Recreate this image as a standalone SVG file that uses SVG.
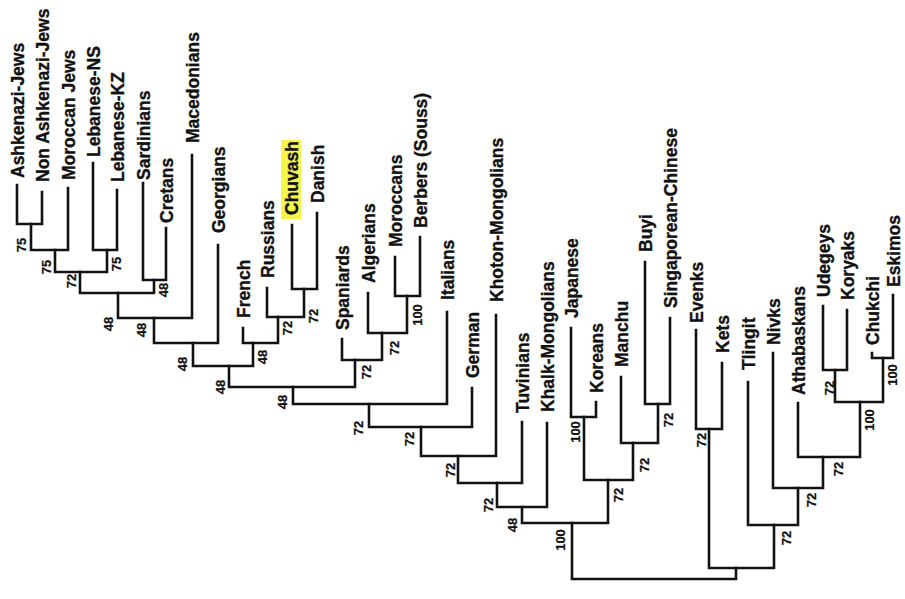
<svg xmlns="http://www.w3.org/2000/svg" width="905" height="599" viewBox="0 0 905 599">
<style>
.lbl{font-family:"Liberation Sans",Arial,sans-serif;font-weight:bold;font-size:17.5px;fill:#111;stroke:#111;stroke-width:0.35}
.bs{font-family:"Liberation Sans",Arial,sans-serif;font-weight:bold;font-size:13px;fill:#111;stroke:#111;stroke-width:0.25;text-anchor:middle}
.br{fill:none;stroke:#111;stroke-width:2.6;stroke-linejoin:miter;stroke-linecap:square}
</style>
<rect width="905" height="599" fill="#fff"/>
<g id="connectors" class="br">
<path d="M17,185 V224 H42 V192"/>
<path d="M31,224 V250 H68 V188"/>
<path d="M93,163 V250 H117 V190"/>
<path d="M55,250 V272 H107 V250"/>
<path d="M143,183 V280 H166 V228"/>
<path d="M80,272 V293 H154 V280"/>
<path d="M118,293 V318 H192 V155"/>
<path d="M154,318 V343 H218 V245"/>
<path d="M292,225 V289 H317 V213"/>
<path d="M267,288 V317 H304 V289"/>
<path d="M243,328 V343 H278 V317"/>
<path d="M193,343 V366 H253 V343"/>
<path d="M395,257 V296 H420 V237"/>
<path d="M368,293 V333 H407 V296"/>
<path d="M342,339 V360 H382 V333"/>
<path d="M229,366 V387 H355 V360"/>
<path d="M293,387 V404 H447 V312"/>
<path d="M369,404 V427 H472 V388"/>
<path d="M421,427 V456 H496 V315"/>
<path d="M458,456 V483 H522 V422"/>
<path d="M497,483 V507 H547 V423"/>
<path d="M571,328 V417 H596 V402"/>
<path d="M645,262 V404 H670 V318"/>
<path d="M621,377 V443 H658 V404"/>
<path d="M584,417 V480 H633 V443"/>
<path d="M522,507 V523 H608 V480"/>
<path d="M696,330 V429 H722 V363"/>
<path d="M823,306 V370 H847 V310"/>
<path d="M872,353 V358 H893 V295"/>
<path d="M835,370 V402 H883 V358"/>
<path d="M798,403 V457 H860 V402"/>
<path d="M773,353 V488 H823 V457"/>
<path d="M748,382 V525 H798 V488"/>
<path d="M709,429 V568 H774 V525"/>
<path d="M572,523 V579 H736 V568"/>
</g>
<g id="support">
<text class="bs" transform="translate(25.5,245) rotate(-90)">75</text>
<text class="bs" transform="translate(50.5,267) rotate(-90)">75</text>
<text class="bs" transform="translate(120.5,264) rotate(-90)">75</text>
<text class="bs" transform="translate(75.5,281) rotate(-90)">72</text>
<text class="bs" transform="translate(167.5,290) rotate(-90)">48</text>
<text class="bs" transform="translate(112.5,324) rotate(-90)">48</text>
<text class="bs" transform="translate(145.5,330) rotate(-90)">48</text>
<text class="bs" transform="translate(186.5,364) rotate(-90)">48</text>
<text class="bs" transform="translate(266.5,357) rotate(-90)">48</text>
<text class="bs" transform="translate(291.5,328) rotate(-90)">72</text>
<text class="bs" transform="translate(317.5,316) rotate(-90)">72</text>
<text class="bs" transform="translate(224.5,387) rotate(-90)">48</text>
<text class="bs" transform="translate(421.5,315) rotate(-90)">100</text>
<text class="bs" transform="translate(398.5,348) rotate(-90)">72</text>
<text class="bs" transform="translate(370.5,372) rotate(-90)">72</text>
<text class="bs" transform="translate(286.5,402) rotate(-90)">48</text>
<text class="bs" transform="translate(362.5,428) rotate(-90)">72</text>
<text class="bs" transform="translate(413.5,439) rotate(-90)">72</text>
<text class="bs" transform="translate(454.5,470) rotate(-90)">72</text>
<text class="bs" transform="translate(492.5,505) rotate(-90)">72</text>
<text class="bs" transform="translate(516.5,525) rotate(-90)">48</text>
<text class="bs" transform="translate(579.5,432) rotate(-90)">100</text>
<text class="bs" transform="translate(672.5,420) rotate(-90)">72</text>
<text class="bs" transform="translate(648.5,465) rotate(-90)">72</text>
<text class="bs" transform="translate(622.5,495) rotate(-90)">72</text>
<text class="bs" transform="translate(564.5,540) rotate(-90)">100</text>
<text class="bs" transform="translate(705.5,440) rotate(-90)">72</text>
<text class="bs" transform="translate(833.5,388) rotate(-90)">72</text>
<text class="bs" transform="translate(896.5,375) rotate(-90)">100</text>
<text class="bs" transform="translate(873.5,420) rotate(-90)">100</text>
<text class="bs" transform="translate(842.5,469) rotate(-90)">72</text>
<text class="bs" transform="translate(815.5,500) rotate(-90)">72</text>
<text class="bs" transform="translate(790.5,538) rotate(-90)">72</text>
</g>
<g id="n-ashkenazi-jews"><text class="lbl" transform="translate(24,178) rotate(-90)">Ashkenazi-Jews</text></g>
<g id="n-non-ashkenazi-jews"><text class="lbl" transform="translate(49,182) rotate(-90)">Non Ashkenazi-Jews</text></g>
<g id="n-moroccan-jews"><text class="lbl" transform="translate(75,180) rotate(-90)">Moroccan Jews</text></g>
<g id="n-lebanese-ns"><text class="lbl" transform="translate(100,157) rotate(-90)">Lebanese-NS</text></g>
<g id="n-lebanese-kz"><text class="lbl" transform="translate(124,182) rotate(-90)">Lebanese-KZ</text></g>
<g id="n-sardinians"><text class="lbl" transform="translate(150,180) rotate(-90)">Sardinians</text></g>
<g id="n-cretans"><text class="lbl" transform="translate(173,223) rotate(-90)">Cretans</text></g>
<g id="n-macedonians"><text class="lbl" transform="translate(199,143) rotate(-90)">Macedonians</text></g>
<g id="n-georgians"><text class="lbl" transform="translate(225,233) rotate(-90)">Georgians</text></g>
<g id="n-french"><text class="lbl" transform="translate(250,318) rotate(-90)">French</text></g>
<g id="n-russians"><text class="lbl" transform="translate(274,278) rotate(-90)">Russians</text></g>
<g id="n-chuvash"><rect x="281" y="140" width="20" height="79" fill="#f7f54a"/><text class="lbl" transform="translate(298,215) rotate(-90)">Chuvash</text></g>
<g id="n-danish"><text class="lbl" transform="translate(324,203) rotate(-90)">Danish</text></g>
<g id="n-spaniards"><text class="lbl" transform="translate(349,330) rotate(-90)">Spaniards</text></g>
<g id="n-algerians"><text class="lbl" transform="translate(375,283) rotate(-90)">Algerians</text></g>
<g id="n-moroccans"><text class="lbl" transform="translate(402,247) rotate(-90)">Moroccans</text></g>
<g id="n-berbers"><text class="lbl" transform="translate(427,228) rotate(-90)">Berbers (Souss)</text></g>
<g id="n-italians"><text class="lbl" transform="translate(454,300) rotate(-90)">Italians</text></g>
<g id="n-german"><text class="lbl" transform="translate(479,378) rotate(-90)">German</text></g>
<g id="n-khoton-mongolians"><text class="lbl" transform="translate(503,302) rotate(-90)">Khoton-Mongolians</text></g>
<g id="n-tuvinians"><text class="lbl" transform="translate(529,413) rotate(-90)">Tuvinians</text></g>
<g id="n-khalk-mongolians"><text class="lbl" transform="translate(554,412) rotate(-90)">Khalk-Mongolians</text></g>
<g id="n-japanese"><text class="lbl" transform="translate(578,318) rotate(-90)">Japanese</text></g>
<g id="n-koreans"><text class="lbl" transform="translate(603,393) rotate(-90)">Koreans</text></g>
<g id="n-manchu"><text class="lbl" transform="translate(628,367) rotate(-90)">Manchu</text></g>
<g id="n-buyi"><text class="lbl" transform="translate(652,252) rotate(-90)">Buyi</text></g>
<g id="n-singaporean-chinese"><text class="lbl" transform="translate(677,308) rotate(-90)">Singaporean-Chinese</text></g>
<g id="n-evenks"><text class="lbl" transform="translate(703,323) rotate(-90)">Evenks</text></g>
<g id="n-kets"><text class="lbl" transform="translate(729,353) rotate(-90)">Kets</text></g>
<g id="n-tlingit"><text class="lbl" transform="translate(755,370) rotate(-90)">Tlingit</text></g>
<g id="n-nivks"><text class="lbl" transform="translate(780,345) rotate(-90)">Nivks</text></g>
<g id="n-athabaskans"><text class="lbl" transform="translate(805,395) rotate(-90)">Athabaskans</text></g>
<g id="n-udegeys"><text class="lbl" transform="translate(830,297) rotate(-90)">Udegeys</text></g>
<g id="n-koryaks"><text class="lbl" transform="translate(854,300) rotate(-90)">Koryaks</text></g>
<g id="n-chukchi"><text class="lbl" transform="translate(879,345) rotate(-90)">Chukchi</text></g>
<g id="n-eskimos"><text class="lbl" transform="translate(900,287) rotate(-90)">Eskimos</text></g>
</svg>
